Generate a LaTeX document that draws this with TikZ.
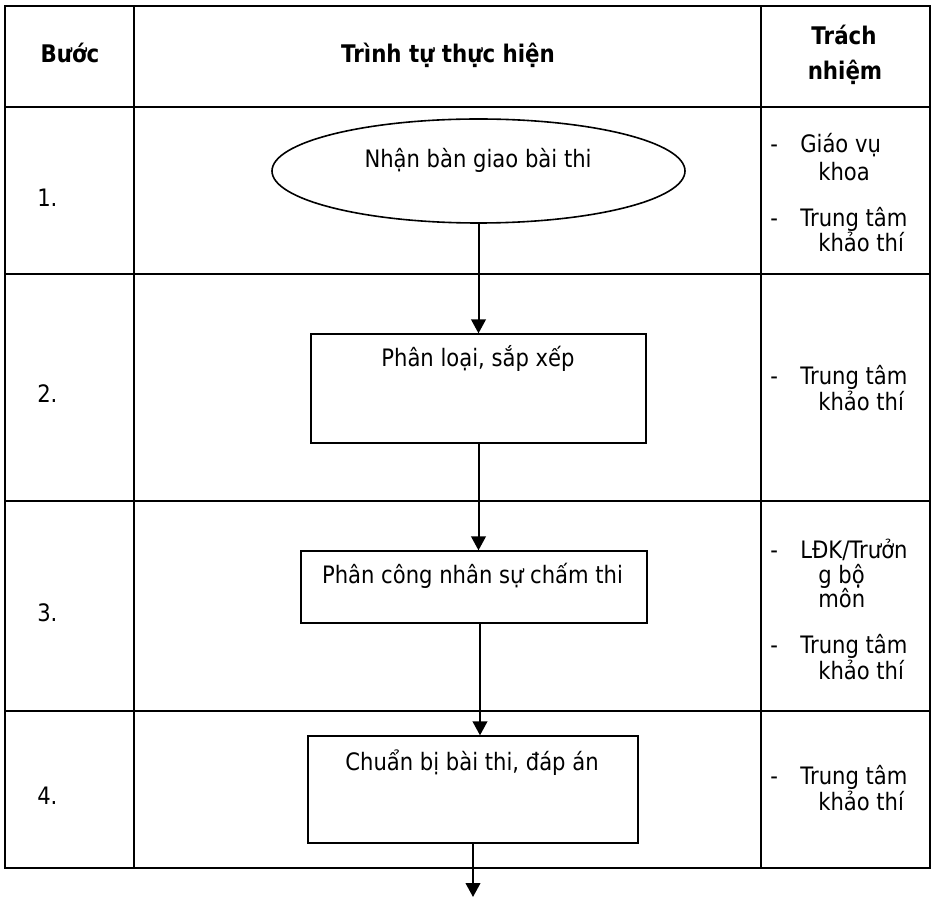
\documentclass[tikz,border=0pt]{standalone}
\usepackage{fontspec}
\setmainfont[FakeStretch=0.88]{DejaVu Sans}
\usetikzlibrary{shapes.geometric,arrows.meta}
\begin{document}
\begin{tikzpicture}[x=0.75pt,y=-0.75pt,
  gridline/.style={line width=1.9pt},
  stepbox/.style={draw, line width=1pt, rectangle, inner sep=0pt},
  oval/.style={draw, ellipse, line width=1.2pt, inner sep=0pt},
  flow/.style={line width=1.5pt, -{Triangle[width=11pt,length=10.5pt]}},
  txt/.style={font=\fontsize{18}{21}\selectfont, inner sep=0pt},
  hdr/.style={font=\bfseries\fontsize{18.2}{21}\selectfont, inner sep=0pt},
  lt/.style={txt, anchor=base west},
  ct/.style={txt, anchor=base},
]
\useasboundingbox (0,0) rectangle (932,898);

% table grid
\draw[gridline] (5,6) rectangle (930,868);
\draw[gridline] (134,6) -- (134,868);
\draw[gridline] (761,6) -- (761,868);
\foreach \yy in {107,274,501,711} \draw[gridline] (5,\yy) -- (930,\yy);

% header
\node[hdr, anchor=base] (hbuoc) at (70,63) {Bước};
\node[hdr, anchor=base] (htrinh) at (448,63) {Trình tự thực hiện};
\node[hdr, anchor=base] (htrach) at (844,45) {Trách};
\node[hdr, anchor=base] (hnhiem) at (845,80) {nhiệm};

% step numbers
\node[lt] (n1) at (37,207) {1.};
\node[lt] (n2) at (37,403) {2.};
\node[lt] (n3) at (37,621) {3.};
\node[lt] (n4) at (37,804) {4.};

% flow shapes
\node[oval, minimum width=309.75pt, minimum height=78pt] (e1) at (478.5,171) {};
\node[ct] (t1) at (478,168) {Nhận bàn giao bài thi};
\node[stepbox, minimum width=251.25pt, minimum height=81.75pt] (b2) at (478.5,388.5) {};
\node[ct] (t2) at (478,367) {Phân loại, sắp xếp};
\node[stepbox, minimum width=259.5pt, minimum height=54pt] (b3) at (474,587) {};
\node[ct] (t3) at (472.5,583) {Phân công nhân sự chấm thi};
\node[stepbox, minimum width=247.5pt, minimum height=80.25pt] (b4) at (473,789.5) {};
\node[ct] (t4) at (472,770) {Chuẩn bị bài thi, đáp án};
\coordinate (endpt) at (473,897);

% connectors
\draw[flow] (e1.south) -- (e1.south |- b2.north);
\draw[flow] (b2.south) -- (b2.south |- b3.north);
\draw[flow] ([xshift=4.5pt]b3.south) -- ([xshift=4.5pt]b3.south |- b4.north);
\draw[flow] (b4.south) -- (b4.south |- endpt);

% responsibilities
\node[lt] (d11) at (770,153) {-};
\node[lt] (r11) at (800,153) {Giáo vụ};
\node[lt] (r12) at (818,181) {khoa};
\node[lt] (d12) at (770,227) {-};
\node[lt] (r13) at (800,227) {Trung tâm};
\node[lt] (r14) at (818,252) {khảo thí};

\node[lt] (d21) at (770,385) {-};
\node[lt] (r21) at (800,385) {Trung tâm};
\node[lt] (r22) at (818,411) {khảo thí};

\node[lt] (d31) at (770,558) {-};
\node[lt] (r31) at (800,558) {LĐK/Trưởn};
\node[lt] (r32) at (818,583) {g bộ};
\node[lt] (r33) at (818,607) {môn};
\node[lt] (d32) at (770,653) {-};
\node[lt] (r34) at (800,653) {Trung tâm};
\node[lt] (r35) at (818,679) {khảo thí};

\node[lt] (d41) at (770,784) {-};
\node[lt] (r41) at (800,784) {Trung tâm};
\node[lt] (r42) at (818,810) {khảo thí};
\end{tikzpicture}
\end{document}
